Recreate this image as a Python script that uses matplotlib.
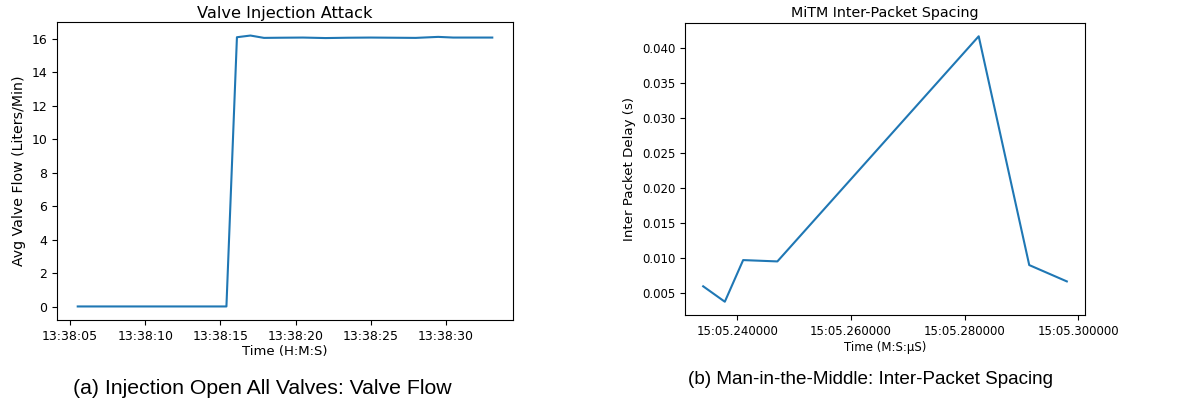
import pandas as pd
import matplotlib
matplotlib.use("Agg")
import matplotlib.pyplot as plt
import matplotlib.dates as mdates
from matplotlib.ticker import FormatStrFormatter

# Panel (a): valve flow during injection attack
valve_times = ["13:38:05.5", "13:38:15.4", "13:38:16.1", "13:38:17.0", "13:38:17.9",
               "13:38:19.0", "13:38:20.5", "13:38:22.0", "13:38:23.5", "13:38:25.0",
               "13:38:26.5", "13:38:28.0", "13:38:29.5", "13:38:30.5", "13:38:32.0",
               "13:38:33.1"]
valve_flow = [0.03, 0.03, 16.1, 16.2, 16.06, 16.07, 16.08, 16.05, 16.07, 16.08,
              16.07, 16.06, 16.12, 16.08, 16.08, 16.08]

# Panel (b): MiTM inter-packet spacing
pkt_times = ["00:15:05.23396", "00:15:05.23777", "00:15:05.24100", "00:15:05.24703",
             "00:15:05.28249", "00:15:05.29139", "00:15:05.29801"]
pkt_delay = [0.0060, 0.0038, 0.00974, 0.00955, 0.04167, 0.00903, 0.0067]
pkt_ticks = ["00:15:05.24", "00:15:05.26", "00:15:05.28", "00:15:05.30"]

valve_x = pd.to_datetime(["2020-01-01 " + t for t in valve_times])
pkt_x = pd.to_datetime(["2020-01-01 " + t for t in pkt_times])
pkt_tx = pd.to_datetime(["2020-01-01 " + t for t in pkt_ticks])

plt.rcParams["font.size"] = 9
fig = plt.figure(figsize=(11.86, 4.04), dpi=100)
W, H = 1186, 404

# left panel
ax1 = fig.add_axes([57 / W, 1 - 320 / H, (513 - 57) / W, (320 - 22) / H])
ax1.plot(valve_x, valve_flow, color="#1f77b4", lw=1.5)
ax1.xaxis.set_major_locator(mdates.SecondLocator(bysecond=range(0, 60, 5)))
ax1.xaxis.set_major_formatter(mdates.DateFormatter("%H:%M:%S"))
ax1.set_yticks(range(0, 17, 2))
ax1.set_title("Valve Injection Attack", fontsize=11.7, pad=3)
ax1.set_xlabel("Time (H:M:S)", fontsize=9.5, labelpad=2)
ax1.set_ylabel("Avg Valve Flow (Liters/Min)", fontsize=10.2)

# right panel
ax2 = fig.add_axes([685 / W, 1 - 315 / H, (1085 - 685) / W, (315 - 23) / H])
ax2.plot(pkt_x, pkt_delay, color="#1f77b4", lw=1.5)
span = pkt_x[-1] - pkt_x[0]
ax2.set_xlim(pkt_x[0] - span * 0.05, pkt_x[-1] + span * 0.05)
ax2.set_xticks(pkt_tx)
ax2.xaxis.set_major_formatter(mdates.DateFormatter("%M:%S.%f"))
ax2.set_yticks([0.005, 0.010, 0.015, 0.020, 0.025, 0.030, 0.035, 0.040])
ax2.yaxis.set_major_formatter(FormatStrFormatter("%.3f"))
ax2.tick_params(labelsize=8.5)
ax2.set_title("MiTM Inter-Packet Spacing", fontsize=10.3, pad=4)
ax2.set_xlabel("Time (M:S:µS)", fontsize=8.5, labelpad=2)
ax2.set_ylabel("Inter Packet Delay (s)", fontsize=9.6)

# captions
fig.text(262 / W, 1 - 388 / H, "(a) Injection Open All Valves: Valve Flow",
         ha="center", va="center", family="Liberation Sans", fontsize=15.3)
fig.text(871 / W, 1 - 380 / H, "(b) Man-in-the-Middle: Inter-Packet Spacing",
         ha="center", va="center", family="Liberation Sans", fontsize=13.6)

fig.savefig("out.png", dpi=100)
